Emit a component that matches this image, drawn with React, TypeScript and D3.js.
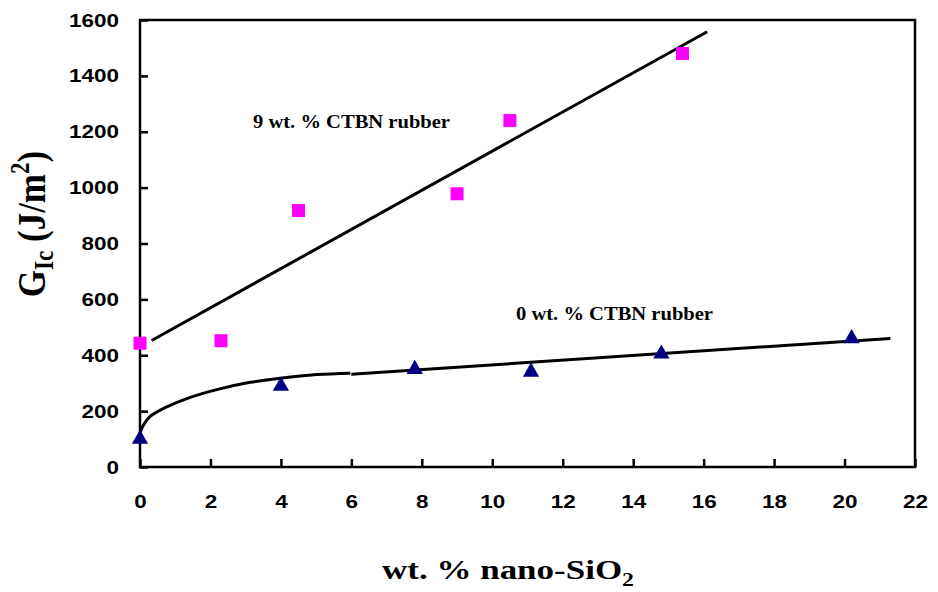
import React, { useRef, useEffect } from 'react';
import * as d3 from 'd3';

// data
const rubber9X = [0, 2.3, 4.5, 9.0, 10.5, 15.4];
const rubber9Y = [443, 452, 918, 978, 1240, 1480];
const rubber0X = [0, 4.0, 7.8, 11.1, 14.8, 20.2];
const rubber0Y = [100, 290, 350, 340, 405, 460];

// trend lines
const fit9X = [0.33, 16.1];
const fit9Y = [453, 1558];
const fit0CurveX = [0, 0.1, 0.28, 0.76, 1.33, 2.18, 3.13, 3.98, 5.02, 5.97];
const fit0CurveY = [121, 150, 180, 215, 245, 277, 303, 318, 331, 336];
const fit0LineX = [6.0, 21.3];
const fit0LineY = [332, 460];

const xTicks = [0, 2, 4, 6, 8, 10, 12, 14, 16, 18, 20, 22];
const yTicks = [0, 200, 400, 600, 800, 1000, 1200, 1400, 1600];

const W = 938;
const H = 592;
const left = 140, right = 915, top = 20, bottom = 467;

const App = () => {
  const ref = useRef<SVGSVGElement>(null);

  useEffect(() => {
    const svg = d3.select(ref.current);
    svg.selectAll('*').remove();

    const x = d3.scaleLinear().domain([0, 22]).range([left, right]);
    const y = d3.scaleLinear().domain([0, 1600]).range([bottom, top]);

    const tickFont = "'Liberation Sans', Arial, sans-serif";
    const serif = "'Liberation Serif', 'Times New Roman', serif";

    // frame
    svg.append('rect')
      .attr('x', left).attr('y', top)
      .attr('width', right - left).attr('height', bottom - top)
      .attr('fill', 'none').attr('stroke', '#000').attr('stroke-width', 2.5);

    // y ticks (inside)
    const yAxis = d3.axisLeft(y).tickValues(yTicks).tickFormat(d3.format('d'))
      .tickSizeInner(-8).tickSizeOuter(0).tickPadding(21);
    const gy = svg.append('g').attr('transform', `translate(${left},0)`).call(yAxis);
    gy.select('.domain').remove();
    gy.selectAll('line').attr('stroke', '#000').attr('stroke-width', 2.5);
    gy.selectAll('text')
      .attr('font-family', tickFont).attr('font-weight', 'bold').attr('font-size', 19)
      .attr('fill', '#000')
      .attr('textLength', (d: any) => String(d).length * 12.5)
      .attr('lengthAdjust', 'spacingAndGlyphs');

    // x ticks (inside)
    const xAxis = d3.axisBottom(x).tickValues(xTicks).tickFormat(d3.format('d'))
      .tickSizeInner(-8).tickSizeOuter(0).tickPadding(28);
    const gx = svg.append('g').attr('transform', `translate(0,${bottom})`).call(xAxis);
    gx.select('.domain').remove();
    gx.selectAll('line').attr('stroke', '#000').attr('stroke-width', 2.5);
    gx.selectAll('text')
      .attr('font-family', tickFont).attr('font-weight', 'bold').attr('font-size', 19)
      .attr('fill', '#000')
      .attr('textLength', (d: any) => String(d).length * 12.5)
      .attr('lengthAdjust', 'spacingAndGlyphs');

    // trend lines
    const line = d3.line<[number, number]>().x(d => x(d[0])).y(d => y(d[1]));
    const curve = d3.line<[number, number]>().x(d => x(d[0])).y(d => y(d[1]))
      .curve(d3.curveCatmullRom.alpha(0.5));

    svg.append('path')
      .attr('d', line(d3.zip(fit9X, fit9Y) as [number, number][]))
      .attr('fill', 'none').attr('stroke', '#000').attr('stroke-width', 3);
    svg.append('path')
      .attr('d', curve(d3.zip(fit0CurveX, fit0CurveY) as [number, number][]))
      .attr('fill', 'none').attr('stroke', '#000').attr('stroke-width', 3);
    svg.append('path')
      .attr('d', line(d3.zip(fit0LineX, fit0LineY) as [number, number][]))
      .attr('fill', 'none').attr('stroke', '#000').attr('stroke-width', 3);

    // markers
    svg.selectAll('.sq')
      .data(d3.zip(rubber9X, rubber9Y))
      .enter()
      .append('rect')
      .attr('class', 'sq')
      .attr('x', d => x(d[0]) - 6.5)
      .attr('y', d => y(d[1]) - 6.5)
      .attr('width', 13).attr('height', 13)
      .attr('fill', '#FF00FF');

    const tri = d3.symbol().type(d3.symbolTriangle).size(115);
    svg.selectAll('.tri')
      .data(d3.zip(rubber0X, rubber0Y))
      .enter()
      .append('path')
      .attr('class', 'tri')
      .attr('transform', d => `translate(${x(d[0])},${y(d[1])})`)
      .attr('d', tri)
      .attr('fill', '#000080');

    // series labels
    svg.append('text')
      .attr('x', 253).attr('y', 128)
      .attr('font-family', serif).attr('font-weight', 'bold').attr('font-size', 19)
      .attr('textLength', 197).attr('lengthAdjust', 'spacingAndGlyphs')
      .text('9 wt. % CTBN rubber');
    svg.append('text')
      .attr('x', 516).attr('y', 320)
      .attr('font-family', serif).attr('font-weight', 'bold').attr('font-size', 19)
      .attr('textLength', 197).attr('lengthAdjust', 'spacingAndGlyphs')
      .text('0 wt. % CTBN rubber');

    // x title
    const xt = svg.append('text')
      .attr('transform', 'translate(508,579) scale(1.25,1)')
      .attr('text-anchor', 'middle')
      .attr('font-family', serif).attr('font-weight', 'bold').attr('font-size', 28);
    xt.append('tspan').text('wt. % nano-SiO');
    xt.append('tspan').attr('font-size', 19).attr('dy', 7).text('2');

    // y title
    const yt = svg.append('text')
      .attr('transform', 'translate(45,224) scale(1.15,1) rotate(-90)')
      .attr('text-anchor', 'middle')
      .attr('font-family', serif).attr('font-weight', 'bold').attr('font-size', 35);
    yt.append('tspan').text('G');
    yt.append('tspan').attr('font-size', 23).attr('dy', 7).text('Ic');
    yt.append('tspan').attr('dy', -7).text(' (J/m');
    yt.append('tspan').attr('font-size', 23).attr('dy', -14).text('2');
    yt.append('tspan').attr('dy', 14).text(')');
  }, []);

  return (
    <svg
      ref={ref}
      width={W}
      height={H}
      style={{ position: 'absolute', left: 0, top: 0, background: '#fff' }}
    />
  );
};

export default App;
